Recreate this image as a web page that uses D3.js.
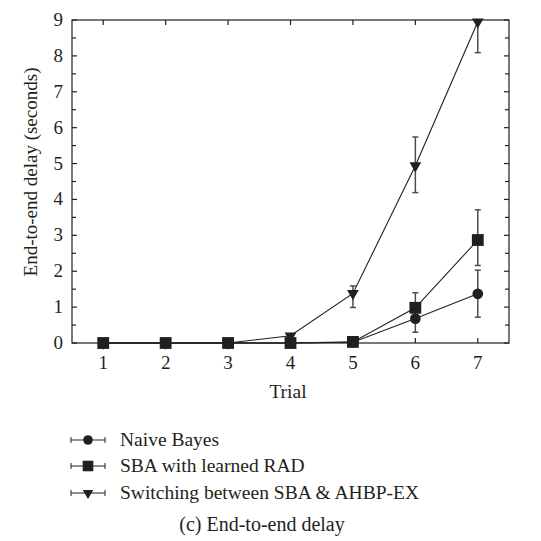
<!DOCTYPE html>
<html>
<head>
<meta charset="utf-8">
<script src="https://cdn.jsdelivr.net/npm/d3@7"></script>
<style>
  body { margin: 0; background: #fff; }
  text { font-family: "Liberation Serif", "DejaVu Serif", serif; fill: #231f20; }
</style>
</head>
<body>
<svg id="chart" width="541" height="541"></svg>
<script>
// trials on the x axis
var trials = [1, 2, 3, 4, 5, 6, 7];
var yTicks = [0, 1, 2, 3, 4, 5, 6, 7, 8, 9];

// delay in seconds, with error bar ends (lo / hi)
var naiveBayes   = [0, 0, 0, 0, 0.02, 0.68, 1.37];
var naiveLo      = [0, 0, 0, 0, 0.02, 0.30, 0.72];
var naiveHi      = [0, 0, 0, 0, 0.02, 1.05, 2.03];

var sbaRad       = [0, 0, 0, 0, 0.03, 0.98, 2.87];
var sbaLo        = [0, 0, 0, 0, 0.03, 0.60, 2.16];
var sbaHi        = [0, 0, 0, 0, 0.03, 1.40, 3.71];

var switching    = [0, 0, 0, 0.2, 1.38, 4.94, 8.95];
var switchLo     = [0, 0, 0, 0.2, 0.99, 4.19, 8.09];
var switchHi     = [0, 0, 0, 0.2, 1.59, 5.74, 9.00];

var seriesNames = ["Naive Bayes", "SBA with learned RAD", "Switching between SBA & AHBP-EX"];

var series = [
    {name: seriesNames[0], v: naiveBayes, lo: naiveLo, hi: naiveHi, sym: d3.symbolCircle, size: 90},
    {name: seriesNames[1], v: sbaRad, lo: sbaLo, hi: sbaHi, sym: d3.symbolSquare, size: 140},
    {name: seriesNames[2], v: switching, lo: switchLo, hi: switchHi, sym: d3.symbolTriangle, size: 60, flip: true}
];

var svg = d3.select("#chart");
var mLeft = 72, mRight = 509, mTop = 20, mBottom = 343;

var x = d3.scaleLinear().domain([0.5, 7.5]).range([mLeft, mRight]);
var y = d3.scaleLinear().domain([0, 9]).range([mBottom, mTop]);

var ink = "#231f20";

// frame
svg.append("rect")
    .attr("x", mLeft).attr("y", mTop)
    .attr("width", mRight - mLeft).attr("height", mBottom - mTop)
    .attr("fill", "none").attr("stroke", ink).attr("stroke-width", 1.2);

// inward ticks on all four sides
var g = svg.append("g").attr("stroke", ink).attr("stroke-width", 1.2);
trials.forEach(t => {
    g.append("line").attr("x1", x(t)).attr("x2", x(t)).attr("y1", mBottom).attr("y2", mBottom - 5);
    g.append("line").attr("x1", x(t)).attr("x2", x(t)).attr("y1", mTop).attr("y2", mTop + 5);
});
d3.range(0, 9.01, 0.5).forEach(v => {
    var len = v % 1 === 0 ? 5 : 4;
    g.append("line").attr("x1", mLeft).attr("x2", mLeft + len).attr("y1", y(v)).attr("y2", y(v));
    g.append("line").attr("x1", mRight).attr("x2", mRight - len).attr("y1", y(v)).attr("y2", y(v));
});

// tick labels
svg.append("g").selectAll("text").data(yTicks).join("text")
    .attr("x", mLeft - 9).attr("y", d => y(d) + 6)
    .attr("text-anchor", "end").attr("font-size", 19)
    .text(d => d);
svg.append("g").selectAll("text").data(trials).join("text")
    .attr("x", d => x(d)).attr("y", mBottom + 26)
    .attr("text-anchor", "middle").attr("font-size", 19)
    .text(d => d);

// axis titles
svg.append("text")
    .attr("x", 288).attr("y", 398)
    .attr("text-anchor", "middle").attr("font-size", 19.5)
    .text("Trial");
svg.append("text")
    .attr("transform", "translate(37,172) rotate(-90)")
    .attr("text-anchor", "middle").attr("font-size", 19)
    .text("End-to-end delay (seconds)");

var line = d3.line().x((d, i) => x(trials[i])).y(d => y(d));

series.forEach(s => {
    // error bars
    trials.forEach((t, i) => {
        if (s.hi[i] - s.lo[i] < 0.05) return;
        var eg = svg.append("g").attr("stroke", "#4d4d4f").attr("stroke-width", 1.5);
        eg.append("line").attr("x1", x(t)).attr("x2", x(t)).attr("y1", y(s.lo[i])).attr("y2", y(s.hi[i]));
        eg.append("line").attr("x1", x(t) - 3).attr("x2", x(t) + 3).attr("y1", y(s.lo[i])).attr("y2", y(s.lo[i]));
        eg.append("line").attr("x1", x(t) - 3).attr("x2", x(t) + 3).attr("y1", y(s.hi[i])).attr("y2", y(s.hi[i]));
    });
    svg.append("path").datum(s.v).attr("d", line)
        .attr("fill", "none").attr("stroke", ink).attr("stroke-width", 1.1);
});

series.forEach(s => {
    svg.append("g").selectAll("path").data(s.v).join("path")
        .attr("d", d3.symbol().type(s.sym).size(s.size))
        .attr("transform", (d, i) => "translate(" + x(trials[i]) + "," + y(d) + ")" + (s.flip ? " rotate(180)" : ""))
        .attr("fill", ink);
});

// legend
var legendY = [440, 466, 493];
series.forEach((s, i) => {
    var lg = svg.append("g").attr("transform", "translate(0," + legendY[i] + ")");
    lg.append("line").attr("x1", 71).attr("x2", 105).attr("y1", 0).attr("y2", 0).attr("stroke", ink).attr("stroke-width", 1.2);
    lg.append("line").attr("x1", 71).attr("x2", 71).attr("y1", -3).attr("y2", 3).attr("stroke", ink).attr("stroke-width", 1);
    lg.append("line").attr("x1", 105).attr("x2", 105).attr("y1", -3).attr("y2", 3).attr("stroke", ink).attr("stroke-width", 1);
    lg.append("path")
        .attr("d", d3.symbol().type(s.sym).size(s.size * 0.8))
        .attr("transform", "translate(88,0)" + (s.flip ? " rotate(180)" : ""))
        .attr("fill", ink);
    lg.append("text").attr("x", 120).attr("y", 6).attr("font-size", 19.5).text(s.name);
});

svg.append("text")
    .attr("x", 262).attr("y", 531)
    .attr("text-anchor", "middle").attr("font-size", 20)
    .text("(c) End-to-end delay");
</script>
</body>
</html>
